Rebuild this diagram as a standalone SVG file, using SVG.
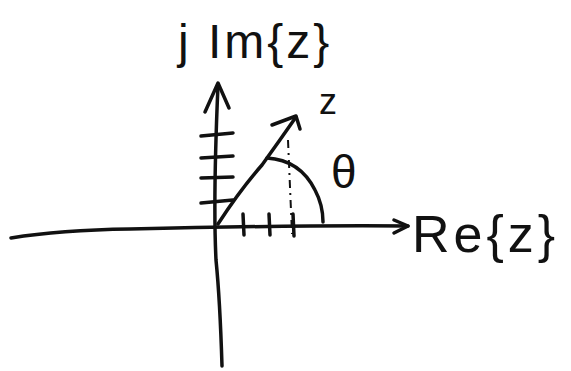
<svg xmlns="http://www.w3.org/2000/svg" width="571" height="371" viewBox="0 0 571 371">
<style>
.s{fill:none;stroke:#111;stroke-width:3.5;stroke-linecap:round;stroke-linejoin:round}
.d{fill:none;stroke:#111;stroke-width:2;stroke-dasharray:8 5 2 5}
.t{font-family:"Liberation Sans",sans-serif;fill:#111}
</style>
<rect width="571" height="371" fill="#fff"/>
<g id="connectors">
<path id="re-axis" class="s" d="M11 238 Q60 230 130 229 Q300 225 408 226"/>
<path class="s" d="M394 220 L408 226 L394 233"/>
<path id="im-axis" class="s" d="M222 366 Q220 300 216 260 Q213 200 218 85"/>
<path class="s" d="M205 112 L218 83 L229 108"/>
<path id="vector-z" class="s" d="M218 224 Q240 190 262 165 Q280 140 296 117"/>
<path class="s" d="M272 125 L296 116 L300 129"/>
<path id="proj" class="d" d="M288 140 L292 234"/>
<path id="angle-arc" class="s" d="M267 158 Q300 160 315 190 Q323 205 323 222"/>
</g>
<g id="ticks">
<path class="s" d="M201 136 L233 133 M201 158 L233 156 M201 178 L233 177 M201 203 L233 200"/>
<path class="s" d="M243 214 L244 235 M269 214 L270 235 M293 214 L294 236"/>
</g>
<g id="labels">
<text id="im-label" class="t" x="178" y="58" font-size="48" letter-spacing="3">j Im{z}</text>
<text id="z-label" class="t" x="319" y="114" font-size="36">z</text>
<text id="theta-label" class="t" x="331" y="188" font-size="46">θ</text>
<text id="re-label" class="t" x="412" y="252" font-size="52" letter-spacing="4">Re{z}</text>
</g>
</svg>
